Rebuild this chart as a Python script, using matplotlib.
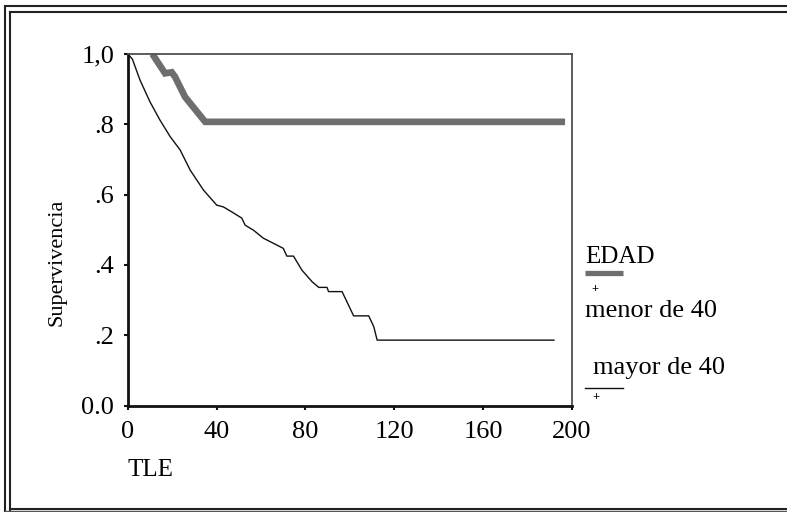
import matplotlib
matplotlib.use('Agg')
from matplotlib import pyplot as plt
from matplotlib.lines import Line2D

# survival curves
tle_menor = [11, 16.7, 19.7, 21.2, 25.7, 34.8, 197]
surv_menor = [1.0, 0.945, 0.948, 0.935, 0.878, 0.807, 0.807]

tle_mayor = [0, 2, 5.4, 9.9, 14.4, 19, 23.5, 28, 34, 40, 43, 47, 51.3, 52.8, 56.5, 61, 66, 70, 71.6,
             74.6, 78.4, 83, 86, 89.7, 90.4, 96.5, 101.7, 108.5, 110.8, 112.3, 192]
surv_mayor = [1.0, 0.985, 0.926, 0.864, 0.812, 0.765, 0.727, 0.67, 0.613, 0.570, 0.565, 0.55, 0.533, 0.513,
              0.499, 0.476, 0.46, 0.447, 0.425, 0.425, 0.385, 0.352, 0.336, 0.336, 0.324, 0.324, 0.255,
              0.255, 0.224, 0.186, 0.186]

xticks = [0, 40, 80, 120, 160, 200]
yticks = [0.0, 0.2, 0.4, 0.6, 0.8, 1.0]
ylabels = ['0.0', '.2', '.4', '.6', '.8', '1,0']

W, H = 787, 512
grey = '#6e6e6e'

plt.rc('font', family='Liberation Serif', size=19)
fig = plt.figure(figsize=(W / 100, H / 100), dpi=100)
ax = fig.add_axes([128 / W, 1 - 405.5 / H, (571.7 - 128) / W, (405.5 - 54) / H])

ax.plot(tle_menor, surv_menor, color=grey, lw=4.8, solid_capstyle='butt', solid_joinstyle='miter')
ax.plot(tle_mayor, surv_mayor, color='#111111', lw=1.0)

ax.set_xlim(0, 200), ax.set_ylim(0, 1)
ax.set_xticks(xticks), ax.set_yticks(yticks), ax.set_yticklabels(ylabels)
ax.tick_params(direction='out', length=3, width=1.5, color='#111111')
ax.tick_params(axis='y', pad=7), ax.tick_params(axis='x', pad=8)
for s in ['left', 'bottom']:
    ax.spines[s].set_linewidth(2.0), ax.spines[s].set_color('#111111')
for s in ['top', 'right']:
    ax.spines[s].set_linewidth(1.3), ax.spines[s].set_color('#505050')
ax.set_ylabel('Supervivencia', fontsize=16)
ax.yaxis.set_label_coords(66 / W, 1 - 262 / H, transform=fig.transFigure)

fig.text(128 / W, 1 - 470 / H, 'TLE', ha='left', va='center', fontsize=18)

# legend drawn by hand
fig.text(585 / W, 1 - 257 / H, 'EDAD', ha='left', va='center', fontsize=18)
fig.add_artist(Line2D([585 / W, 623 / W], [1 - 273 / H] * 2, color=grey, lw=3.8, solid_capstyle='butt'))
fig.text(595 / W, 1 - 289 / H, '+', ha='center', va='center', fontsize=9, fontweight='bold')
fig.text(585 / W, 1 - 311 / H, 'menor de 40', ha='left', va='center', fontsize=19)
fig.text(593 / W, 1 - 368 / H, 'mayor de 40', ha='left', va='center', fontsize=19)
fig.add_artist(Line2D([585 / W, 623 / W], [1 - 388 / H] * 2, color='#111111', lw=1.0))
fig.text(596 / W, 1 - 397 / H, '+', ha='center', va='center', fontsize=9, fontweight='bold')

# double frame round the picture
for x in [5, 10]:
    fig.add_artist(Line2D([x / W] * 2, [0, 1 - (6 if x == 5 else 12) / H], color='#222222', lw=1.5))
for y in [6, 12, 508.5]:
    x0 = 5 if y == 6 else 10
    fig.add_artist(Line2D([x0 / W, 1], [1 - y / H] * 2, color='#222222', lw=1.5))
fig.add_artist(Line2D([5 / W, 1], [1 - 511 / H] * 2, color='#555555', lw=1.0))

fig.savefig('out.png', dpi=100)
